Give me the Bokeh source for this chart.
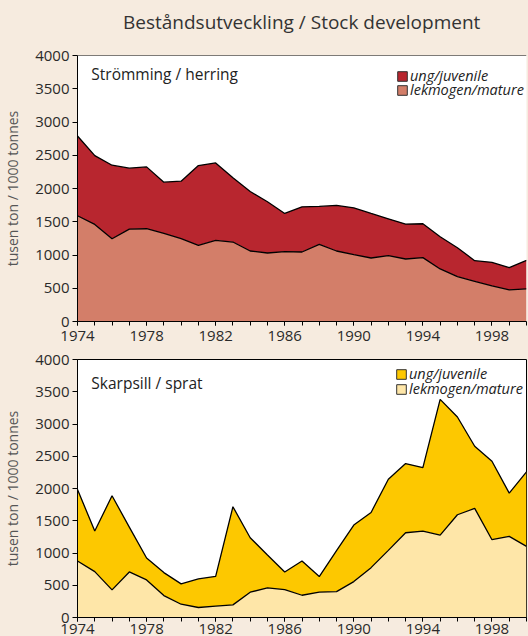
from bokeh.plotting import figure
from bokeh.layouts import column
from bokeh.models import (Range1d, FixedTicker, Label, Legend, LegendItem, ColumnDataSource,
                          Span, Div)
from bokeh.embed import file_html
from bokeh.resources import INLINE

years = list(range(1974, 2001))

herring_total = [2790, 2495, 2350, 2305, 2325, 2095, 2110, 2345, 2385, 2160, 1955, 1800, 1625,
                 1725, 1730, 1745, 1710, 1625, 1545, 1465, 1470, 1275, 1110, 915, 890, 810, 920]
herring_mature = [1590, 1460, 1245, 1390, 1395, 1325, 1245, 1145, 1220, 1195, 1060, 1030, 1050,
                  1045, 1160, 1060, 1005, 955, 990, 940, 960, 790, 675, 605, 535, 475, 490]

sprat_total = [1985, 1340, 1887, 1402, 923, 696, 521, 598, 639, 1717, 1237, 969, 706,
               876, 634, 1036, 1433, 1629, 2144, 2387, 2325, 3382, 3108, 2655, 2423, 1928, 2258]
sprat_mature = [876, 711, 428, 706, 583, 340, 206, 155, 175, 196, 392, 459, 433,
                345, 392, 402, 557, 773, 1041, 1314, 1340, 1278, 1593, 1691, 1206, 1258, 1103]

y_ticks = list(range(0, 4001, 500))
x_ticks = [1974, 1978, 1982, 1986, 1990, 1994, 1998]

title_text = "Beståndsutveckling / Stock development"
y_label = "tusen ton / 1000 tonnes"
label_juv = "ung/juvenile"
label_mat = "lekmogen/mature"

BG = "#F6EBDF"
FONT = "Open Sans"


def make_legend(label, renderer, loc):
    return Legend(items=[LegendItem(label=label, renderers=[renderer])],
                  location=loc, glyph_width=12, glyph_height=12, label_height=14,
                  label_standoff=2, spacing=0, padding=0, margin=0,
                  background_fill_alpha=0, border_line_alpha=0,
                  label_text_font=FONT, label_text_font_style="italic",
                  label_text_font_size="14.5px", label_text_color="#222222")


def make_fig(name, total, mature, c_juv, c_mat, width, height, bl, br, bt, bb,
             name_y=3720, juv_loc=(319, 236), mat_loc=(319, 222), outline=True, xlab_standoff=2):
    p = figure(width=width, height=height, x_range=Range1d(1974, 2000), y_range=Range1d(0, 4000),
               output_backend="svg", toolbar_location=None, background_fill_color="white",
               border_fill_color=BG, min_border_left=bl, min_border_right=br,
               min_border_top=bt, min_border_bottom=bb,
               outline_line_color="black" if outline else None,
               outline_line_width=1)
    p.xgrid.visible = False
    p.ygrid.visible = False
    src = ColumnDataSource(dict(year=years, total=total, mature=mature, zero=[0] * len(years)))
    p.varea(x="year", y1="mature", y2="total", source=src, fill_color=c_juv)
    p.varea(x="year", y1="zero", y2="mature", source=src, fill_color=c_mat)
    p.line(x="year", y="total", source=src, line_color="black", line_width=1.3)
    p.line(x="year", y="mature", source=src, line_color="black", line_width=1.3)
    if not outline:
        p.add_layout(Span(location=4000, dimension="width", line_color="black", line_width=1.2))

    # legend swatches (one dummy row each, placed outside the visible range)
    dummy = ColumnDataSource(dict(l=[1900], r=[1901], b=[-100], t=[-50]))
    rj = p.quad(left="l", right="r", bottom="b", top="t", source=dummy, fill_color=c_juv,
                line_color="#333333", line_width=1)
    rm = p.quad(left="l", right="r", bottom="b", top="t", source=dummy, fill_color=c_mat,
                line_color="#333333", line_width=1)
    p.add_layout(make_legend(label_juv, rj, juv_loc))
    p.add_layout(make_legend(label_mat, rm, mat_loc))

    p.add_layout(Label(x=1974.8, y=name_y, text=name, text_font=FONT, text_font_size="15.5px",
                       text_color="#222222", text_baseline="middle"))

    for ax in p.axis:
        ax.axis_line_color = "black"
        ax.axis_line_width = 1
        ax.major_tick_line_color = "black"
        ax.minor_tick_line_color = "black"
        ax.major_tick_in = 0
        ax.minor_tick_in = 0
        ax.major_label_text_font = FONT
        ax.major_label_text_font_size = "15px"
        ax.major_label_text_color = "#2a2a2a"
    p.yaxis.ticker = FixedTicker(ticks=y_ticks)
    p.yaxis.major_tick_out = 5
    p.yaxis.minor_tick_out = 0
    p.yaxis.major_label_standoff = 3
    p.yaxis.axis_label = y_label
    p.yaxis.axis_label_text_font = FONT
    p.yaxis.axis_label_text_font_size = "14px"
    p.yaxis.axis_label_text_font_style = "normal"
    p.yaxis.axis_label_text_color = "#555555"
    p.yaxis.axis_label_standoff = 10
    p.xaxis.ticker = FixedTicker(ticks=x_ticks, minor_ticks=years)
    p.xaxis.major_tick_out = 4
    p.xaxis.minor_tick_out = 4
    p.xaxis.major_label_standoff = xlab_standoff
    return p


title_div = Div(text=title_text, width=528, height=47, margin=0,
                styles={"font-family": FONT, "font-size": "19px", "color": "#333333",
                        "line-height": "44px", "text-indent": "123px",
                        "white-space": "nowrap", "background-color": BG})

p1 = make_fig("Strömming / herring", herring_total, herring_mature, "#B8262F", "#D37E69",
              width=528, height=299, bl=76, br=0, bt=8, bb=25,
              name_y=3720, juv_loc=(319, 236), mat_loc=(319, 222), outline=False,
              xlab_standoff=5)
p2 = make_fig("Skarpsill / sprat", sprat_total, sprat_mature, "#FDC800", "#FEE6A8",
              width=528, height=290, bl=75, br=2, bt=13, bb=19,
              name_y=3640, juv_loc=(318, 234), mat_loc=(318, 219), outline=True,
              xlab_standoff=2)

layout = column(title_div, p1, p2, spacing=0, styles={"background-color": BG})

open("out.html", "w").write(file_html(layout, INLINE))
